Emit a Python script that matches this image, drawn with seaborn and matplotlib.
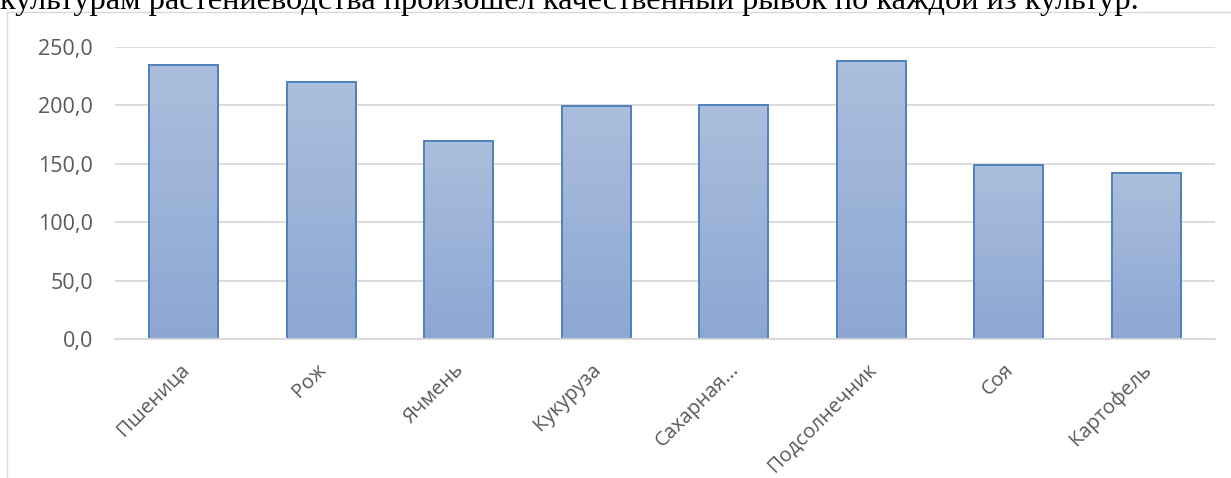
import numpy as np
import matplotlib
matplotlib.use('Agg')
import matplotlib.pyplot as plt
import seaborn as sns
from matplotlib.colors import LinearSegmentedColormap
from matplotlib.lines import Line2D
from matplotlib.ticker import FuncFormatter
from matplotlib.transforms import ScaledTranslation

crops = ['Пшеница', 'Рож', 'Ячмень', 'Кукуруза', 'Сахарная...',
         'Подсолнечник', 'Соя', 'Картофель']
values = [234.5, 220.0, 169.5, 199.5, 200.5, 238.0, 149.0, 142.0]
y_ticks = [0, 50, 100, 150, 200, 250]
top_line = 'культурам растениеводства произошел качественный рывок по каждой из культур.'

W, H = 1231, 478

sns.set_theme(style='white')
plt.rcParams['font.family'] = ['Open Sans', 'DejaVu Sans']

fig = plt.figure(figsize=(W / 100, H / 100), dpi=100)
ax = fig.add_axes([115 / W, 1 - 339 / H, 1100 / W, (339 - 47) / H])

sns.barplot(x=crops, y=values, color='#A9BCDB', width=0.5,
            edgecolor='#4F81BD', linewidth=1.4, ax=ax)

# vertical gradient fill like the Excel bars
grad = np.linspace(0, 1, 256).reshape(-1, 1)
cmap = LinearSegmentedColormap.from_list('bar_grad', ['#8DA7D3', '#ABBEDC'])
for p in ax.patches:
    x0, y0 = p.get_x(), p.get_y()
    w, h = p.get_width(), p.get_height()
    im = ax.imshow(grad, extent=[x0, x0 + w, y0, y0 + h], origin='lower',
                   cmap=cmap, aspect='auto', zorder=p.get_zorder() - 0.01)
    im.set_clip_path(p)
    p.set_facecolor('none')

ax.set_xlim(-0.5, len(crops) - 0.5)
ax.set_ylim(0, 250)
ax.set_yticks(y_ticks)
ax.yaxis.set_major_formatter(FuncFormatter(lambda v, pos: f'{v:.1f}'.replace('.', ',')))
ax.grid(axis='y', color='#D9D9D9', linewidth=1.3)
ax.set_axisbelow(True)
for side in ['top', 'right', 'left']:
    ax.spines[side].set_visible(False)
ax.spines['bottom'].set_color('#D9D9D9')
ax.spines['bottom'].set_linewidth(1.3)

ax.tick_params(axis='y', length=0, pad=16, labelsize=15.5, labelcolor='#595959')
ax.tick_params(axis='x', length=0, pad=15, labelsize=14.6, labelcolor='#595959')
shift = ScaledTranslation(-5 / 100, 0, fig.dpi_scale_trans)
for lbl in ax.get_xticklabels():
    lbl.set_rotation(45)
    lbl.set_ha('right')
    lbl.set_va('top')
    lbl.set_rotation_mode('anchor')
    lbl.set_transform(lbl.get_transform() + shift)
ax.set_xlabel('')
ax.set_ylabel('')

# chart frame (cropped by the screenshot)
fig.add_artist(Line2D([7 / W, 7 / W], [0, 1 - 12 / H], transform=fig.transFigure,
                      color='#D9D9D9', linewidth=1))
fig.add_artist(Line2D([7 / W, 1], [1 - 12 / H, 1 - 12 / H], transform=fig.transFigure,
                      color='#D9D9D9', linewidth=1))

# document text above the chart, cut off at the top
fig.text(0, 1 - 9 / H, top_line, family=['Liberation Serif'], fontsize=23.3,
         color='black', va='baseline', ha='left')

fig.savefig('out.png', dpi=100)
